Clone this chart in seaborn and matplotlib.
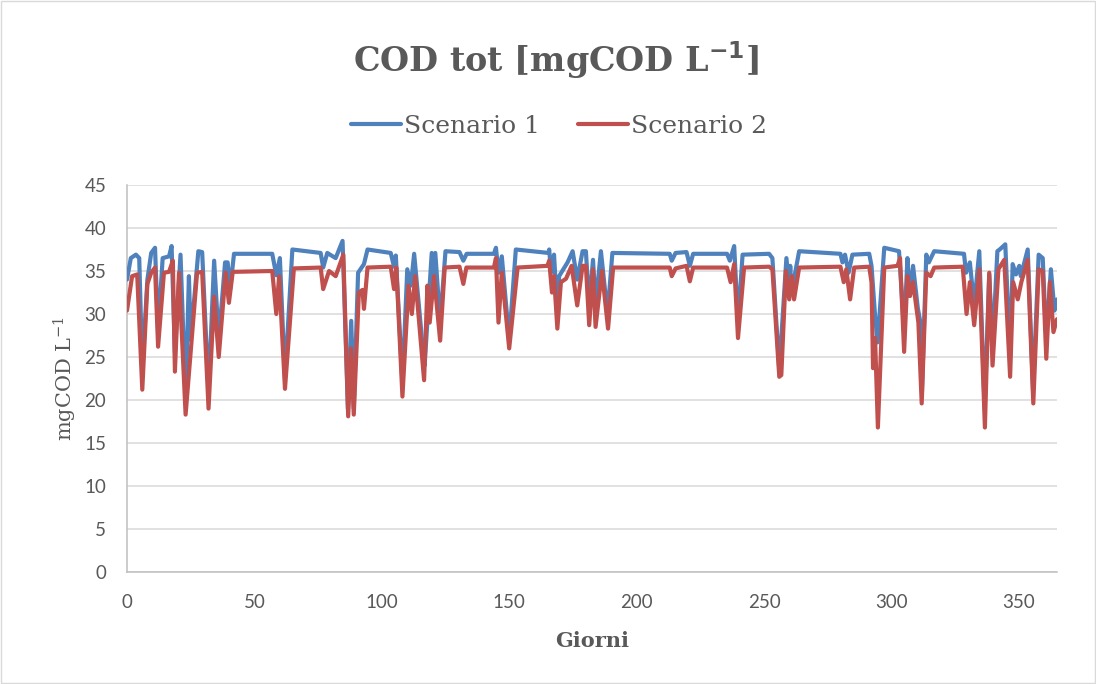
import numpy as np
import pandas as pd
import matplotlib
matplotlib.use('Agg')
import matplotlib.pyplot as plt
import seaborn as sns
from matplotlib.patches import Rectangle
from matplotlib.lines import Line2D

# Dati (giorni, COD tot)
giorni_s1 = [0, 1.5, 3.5, 4.8, 6, 8, 9.5, 11, 12.2, 14, 16.5, 17.5, 18.8, 21, 23, 24.3, 25, 28, 29.5,
             32, 34.2, 36, 38.5, 39.5, 40.5, 42, 57, 58.6, 60, 62, 64.9, 76, 77, 78.6, 81.9, 84.6,
             86.7, 88, 89, 90.7, 93, 94.4, 103.5, 104.8, 105.5, 108.1, 110, 111.4, 112.7, 116,
             116.8, 119.6, 120.3, 121, 122.9, 125, 130.5, 132, 133.3, 144, 144.8, 145.8, 147.1,
             150, 152.6, 165.4, 165.7, 166.4, 167.6, 168.9, 169.6, 172.9, 174.9, 176.7, 178.8,
             180.1, 181.4, 182.9, 183.9, 186, 188.6, 190.5, 213, 213.8, 215.3, 219.6, 220.9, 222.2,
             235.5, 236.6, 238.3, 239.8, 241.6, 252, 253.3, 256, 258.8, 259.9, 260.3, 260.8, 263.8,
             280, 280.8, 281.8, 283.2, 284.7, 291.3, 292.2, 293.6, 294.6, 297.2, 303, 305, 306.3,
             307.2, 308.5, 310.4, 311.6, 312, 313.7, 314.7, 316.8, 328.5, 329.3, 330.8, 332.5,
             334.5, 336.6, 338.4, 339.7, 341.6, 342.5, 344.7, 346.6, 347.6, 348.9, 350.2, 350.8,
             353.5, 355.6, 357.8, 359.4, 360.8, 362.6, 364, 365]
cod_s1 = [34.0, 36.5, 36.9, 36.5, 23.5, 34.0, 37.1, 37.7, 28.0, 36.5, 36.7, 37.9, 25.5, 36.9, 20.0,
          34.4, 27.0, 37.3, 37.2, 21.0, 36.2, 27.0, 36.0, 36.0, 32.9, 37.0, 37.0, 34.5, 36.5, 22.5,
          37.5, 37.1, 35.4, 37.1, 36.5, 38.5, 19.0, 29.2, 19.0, 34.8, 35.8, 37.5, 37.1, 35.5, 36.8,
          22.0, 35.2, 33.3, 37.0, 26.3, 24.0, 37.1, 32.7, 37.1, 29.0, 37.3, 37.2, 36.2, 37.0, 37.0,
          37.7, 34.8, 36.7, 27.0, 37.5, 37.1, 37.5, 34.8, 36.9, 30.0, 34.4, 36.0, 37.3, 34.0, 37.3,
          37.3, 31.0, 36.3, 31.0, 37.3, 30.0, 37.1, 37.0, 36.2, 37.1, 37.2, 35.6, 37.0, 37.0, 36.2,
          37.9, 29.0, 36.9, 37.0, 36.5, 23.5, 36.5, 33.0, 35.6, 32.5, 37.3, 37.0, 36.0, 36.9, 34.8,
          36.9, 37.0, 35.6, 29.8, 26.7, 37.7, 37.3, 28.0, 36.5, 32.1, 35.6, 30.6, 28.7, 21.0, 36.9,
          36.0, 37.3, 37.0, 34.8, 36.0, 31.0, 37.3, 19.0, 34.6, 26.0, 37.3, 37.5, 38.1, 25.0, 35.8,
          34.6, 35.6, 34.4, 37.5, 21.0, 36.9, 36.5, 27.0, 35.2, 30.4, 31.7]

giorni_s2 = [0, 2, 4, 6, 8, 9.5, 11, 12.2, 14.5, 16.5, 18, 18.8, 20.4, 23, 25, 27.5, 29.5, 32, 34.2,
             36, 38.7, 40, 41.5, 57, 58.6, 59.7, 62, 65.5, 76, 77, 79.3, 81.9, 84.9, 86.8, 88, 89,
             91, 92.4, 93, 94.4, 103.5, 104.8, 105.7, 108.1, 110.5, 111.8, 113.1, 116.6, 117.9,
             118.8, 120.5, 122.9, 124.7, 130.5, 132, 133.2, 144, 144.8, 145.8, 147.1, 150, 153.3,
             165, 165.7, 166.8, 167.6, 168.9, 170.3, 172.3, 174.5, 176.7, 178.8, 180.1, 181.4,
             182.9, 183.9, 186.4, 188.8, 190.8, 213, 213.8, 215.3, 219.6, 220.9, 222.2, 235.5,
             236.9, 238.3, 239.8, 242.2, 252, 253.3, 256, 256.8, 258.6, 259.9, 260.9, 261.8, 263.8,
             280, 281.3, 282.3, 283.8, 285.4, 291.3, 292.2, 292.8, 293.6, 294.7, 297.2, 302.4,
             303.4, 305, 306.3, 307.3, 308.5, 310.6, 311.9, 313.7, 315.4, 316.8, 328, 329.5, 330.8,
             332.5, 334.5, 336.7, 338.4, 339.7, 342, 344.3, 346.6, 347.8, 349.6, 351, 353.5, 355.7,
             357.8, 359.4, 360.8, 362.2, 363.6, 365]
cod_s2 = [30.4, 34.4, 34.6, 21.2, 33.5, 34.8, 35.4, 26.2, 34.8, 34.9, 36.2, 23.3, 34.8, 18.3, 25.6,
          34.8, 34.9, 19.0, 32.0, 25.0, 34.8, 31.3, 34.9, 35.0, 30.0, 34.4, 21.3, 35.3, 35.4, 32.9,
          35.0, 34.4, 36.9, 18.1, 26.0, 18.3, 32.5, 32.8, 30.6, 35.4, 35.5, 32.9, 35.4, 20.4, 33.3,
          30.0, 34.4, 22.3, 33.3, 29.0, 34.4, 26.9, 35.4, 35.5, 33.5, 35.4, 35.4, 36.5, 29.0, 34.8,
          26.0, 35.4, 35.6, 36.2, 32.5, 34.4, 28.3, 33.7, 34.1, 35.6, 31.0, 35.6, 35.6, 28.7, 35.2,
          28.5, 35.0, 28.3, 35.4, 35.4, 34.4, 35.3, 35.6, 33.8, 35.4, 35.4, 33.7, 35.8, 27.2, 35.4,
          35.5, 35.2, 22.7, 22.9, 35.0, 31.7, 34.4, 31.7, 35.4, 35.5, 33.7, 35.2, 31.7, 35.4, 35.5,
          33.7, 23.7, 27.2, 16.8, 35.4, 35.6, 36.5, 25.6, 34.4, 32.1, 33.7, 29.0, 19.6, 34.8, 34.4,
          35.4, 35.5, 30.0, 33.7, 28.7, 35.2, 16.8, 34.8, 24.0, 35.2, 36.3, 22.7, 33.7, 31.7, 33.7,
          36.3, 19.6, 35.2, 35.0, 24.8, 33.7, 27.9, 29.4]

serie = ['Scenario 1', 'Scenario 2']
colori = ['#4F81BD', '#C0504D']
y_ticks = list(range(0, 50, 5))
x_ticks = list(range(0, 400, 50))

df = pd.concat([
    pd.DataFrame({'Giorni': giorni_s1, 'COD': cod_s1, 'Serie': serie[0]}),
    pd.DataFrame({'Giorni': giorni_s2, 'COD': cod_s2, 'Serie': serie[1]}),
])

sns.set_style('white')
plt.rcParams['mathtext.default'] = 'regular'
GRIGIO = '#595959'

fig = plt.figure(figsize=(10.96, 6.84), dpi=100)
ax = fig.add_axes([127 / 1096, 1 - 572 / 684, 930 / 1096, 387 / 684])

sns.lineplot(data=df, x='Giorni', y='COD', hue='Serie', palette=colori, linewidth=3,
             ax=ax, legend=False, zorder=3)

ax.set_xlim(0, 365)
ax.set_ylim(0, 45)
ax.set_xticks(x_ticks)
ax.set_yticks(y_ticks)
ax.grid(axis='y', color='#D9D9D9', linewidth=1.1, zorder=0)
ax.grid(axis='x', visible=False)
for s in ['top', 'right']:
    ax.spines[s].set_visible(False)
for s in ['left', 'bottom']:
    ax.spines[s].set_color('#BFBFBF')
    ax.spines[s].set_linewidth(1.1)
ax.tick_params(axis='both', length=0, labelsize=13.5, labelcolor=GRIGIO)
ax.tick_params(axis='x', pad=16)
ax.tick_params(axis='y', pad=15)
for lab in ax.get_xticklabels() + ax.get_yticklabels():
    lab.set_family('Lato')

ax.set_xlabel('Giorni', fontsize=15, fontweight='bold', family='DejaVu Serif', color=GRIGIO, labelpad=14)
ax.set_ylabel('mgCOD L$^{-1}$', fontsize=15, family='DejaVu Serif', color=GRIGIO, labelpad=4)

fig.text(0.507, 0.912, 'COD tot [mgCOD L$^{\\mathbf{-1}}$]', ha='center', va='center',
         fontsize=24, fontweight='bold', family='DejaVu Serif', color=GRIGIO)

# legenda in alto, sotto il titolo
handles = [Line2D([0], [0], color=c, linewidth=3) for c in colori]
leg = fig.legend(handles, serie, loc='center', bbox_to_anchor=(0.51, 0.815), ncol=2,
                 frameon=False, handlelength=2.0, handletextpad=0.15, columnspacing=1.5,
                 prop={'family': 'DejaVu Serif', 'size': 18})
for t in leg.get_texts():
    t.set_color(GRIGIO)

fig.patches.append(Rectangle((0.001, 0.001), 0.998, 0.998, transform=fig.transFigure,
                             fill=False, edgecolor='#D9D9D9', linewidth=1))

fig.savefig('out.png', dpi=100)
